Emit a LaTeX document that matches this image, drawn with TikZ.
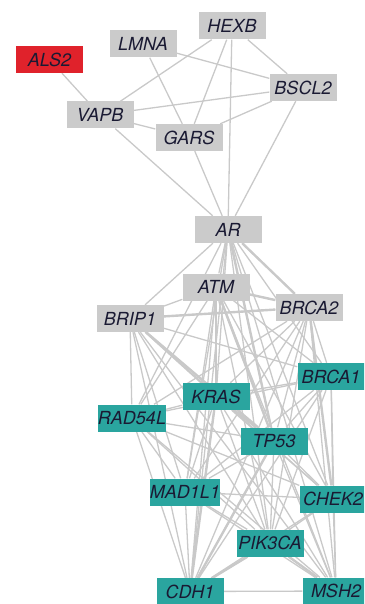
\documentclass[tikz,border=0pt]{standalone}
\usepackage{fontspec}
\setmainfont{TeX Gyre Heros}
\usetikzlibrary{backgrounds}
\definecolor{edgegray}{HTML}{C9C9C9}
\definecolor{boxgray}{HTML}{CBCBCB}
\definecolor{geneteal}{HTML}{2AA59F}
\definecolor{genered}{HTML}{E0222B}
\definecolor{labelink}{HTML}{1A1A33}
\tikzset{
  gene/.style={rectangle, draw=none, minimum width=67pt, minimum height=27pt,
    inner sep=0pt, text=labelink, font=\fontsize{18}{20}\selectfont\itshape},
  greygene/.style={gene, fill=boxgray},
  tealgene/.style={gene, fill=geneteal},
  redgene/.style={gene, fill=genered},
  edge/.style={draw=edgegray, line width=1.3pt},
  heavyedge/.style={draw=edgegray, line width=2.4pt}
}
\begin{document}
\begin{tikzpicture}[x=1pt, y=-1pt]
\useasboundingbox (0,0) rectangle (364,604);
\clip (0,0) rectangle (364,604);

% upper module
\node[redgene]  (ALS2)  at (49.5,59.5) {ALS2};
\node[greygene] (LMNA)  at (143,44)    {LMNA};
\node[greygene] (HEXB)  at (232,26)    {HEXB};
\node[greygene] (BSCL2) at (303,87.5)  {BSCL2};
\node[greygene] (VAPB)  at (100,115)   {VAPB};
\node[greygene] (GARS)  at (189,137.5) {GARS};

% hub and lower module
\node[greygene] (AR)    at (228,229.5) {AR};
\node[greygene] (ATM)   at (216,287)   {ATM};
\node[greygene] (BRIP1) at (130,318.5) {BRIP1};
\node[greygene] (BRCA2) at (309,307.5) {BRCA2};
\node[tealgene] (BRCA1) at (331,376.5) {BRCA1};
\node[tealgene] (KRAS)  at (216,396.5) {KRAS};
\node[tealgene] (RAD54L) at (132,418)  {RAD54L};
\node[tealgene] (TP53)  at (274,441)   {TP53};
\node[tealgene] (MAD1L1) at (185,492)  {MAD1L1};
\node[tealgene] (CHEK2) at (333,499)   {CHEK2};
\node[tealgene] (PIK3CA) at (270,543)  {PIK3CA};
\node[tealgene] (CDH1)  at (190,591.5) {CDH1};
\node[tealgene] (MSH2)  at (336,591)   {MSH2};

\begin{pgfonlayer}{background}
  \clip (0,0) rectangle (364,604);
  % interactions of the upper module
  \foreach \a/\b in {ALS2/VAPB, LMNA/BSCL2, LMNA/GARS, HEXB/VAPB, HEXB/GARS,
      HEXB/AR, HEXB/BSCL2, VAPB/BSCL2, VAPB/GARS, GARS/BSCL2,
      VAPB/AR, GARS/AR, BSCL2/AR}
    \draw[edge] (\a) -- (\b);

  % interactions of the lower module
  \foreach \a/\rest in {
      AR/{ATM,BRIP1,BRCA2,BRCA1,KRAS,RAD54L,TP53,MAD1L1,CHEK2,PIK3CA,CDH1,MSH2},
      ATM/{BRIP1,BRCA2,BRCA1,KRAS,RAD54L,TP53,MAD1L1,CHEK2,PIK3CA,CDH1,MSH2},
      BRIP1/{BRCA2,BRCA1,KRAS,RAD54L,TP53,MAD1L1,CHEK2,PIK3CA,CDH1,MSH2},
      BRCA2/{BRCA1,KRAS,RAD54L,TP53,MAD1L1,CHEK2,PIK3CA,CDH1,MSH2},
      BRCA1/{KRAS,RAD54L,TP53,MAD1L1,CHEK2,PIK3CA,CDH1,MSH2},
      KRAS/{RAD54L,TP53,MAD1L1,CHEK2,PIK3CA,CDH1,MSH2},
      RAD54L/{TP53,MAD1L1,CHEK2,PIK3CA,CDH1,MSH2},
      TP53/{MAD1L1,CHEK2,PIK3CA,CDH1,MSH2},
      MAD1L1/{CHEK2,PIK3CA,CDH1,MSH2},
      CHEK2/{PIK3CA,CDH1,MSH2},
      PIK3CA/{CDH1,MSH2},
      CDH1/{MSH2}}
    \foreach \b in \rest
      \draw[edge] (\a) -- (\b);

  % stronger interactions
  \foreach \a/\b in {AR/BRCA2, AR/TP53, ATM/TP53, ATM/BRCA2, BRIP1/BRCA2,
      KRAS/TP53, TP53/CDH1, PIK3CA/CDH1, PIK3CA/MSH2, BRCA2/CHEK2,
      BRIP1/TP53, KRAS/CDH1}
    \draw[heavyedge] (\a) -- (\b);
\end{pgfonlayer}
\end{tikzpicture}
\end{document}
